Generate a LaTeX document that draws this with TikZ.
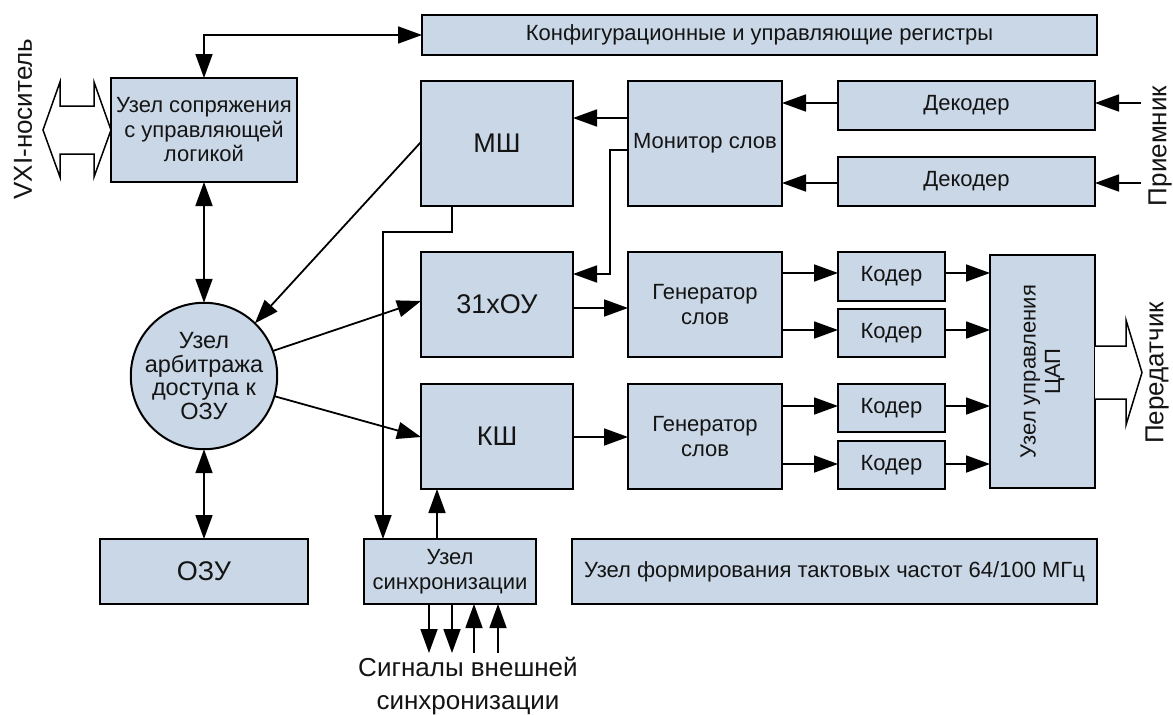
\documentclass[tikz,border=0pt]{standalone}
\usepackage{fontspec}
\setmainfont{Liberation Sans}
\usetikzlibrary{arrows.meta}
\definecolor{boxfill}{RGB}{202,215,230}
\definecolor{txt}{RGB}{20,20,20}
\begin{document}
\begin{tikzpicture}[x=1pt,y=-1pt,
  blk/.style={draw=black, fill=boxfill, line width=2pt, inner sep=0pt, outer sep=0pt, align=center, text=txt, font=\fontsize{22}{24.5}\selectfont},
  big/.style={font=\fontsize{27}{30}\selectfont},
  lbl/.style={font=\fontsize{26}{33}\selectfont, text=txt, align=center, inner sep=0pt},
  con/.style={line width=1.8pt, draw=black},
  arr/.style={con, -{Triangle[length=24pt,width=17pt]}},
  darr/.style={con, {Triangle[length=24pt,width=17pt]}-{Triangle[length=24pt,width=17pt]}},
  fat/.style={line width=1.5pt, draw=black, fill=white, line join=miter}
]
\useasboundingbox (0,0) rectangle (1173,715);

% boxes
\node[blk, minimum width=675, minimum height=40] (cfg) at (759.5,35) {Конфигурационные и управляющие регистры};
\node[blk, minimum width=186, minimum height=104] (usp) at (204,130) {Узел сопряжения\\с управляющей\\логикой};
\node[blk, big, minimum width=152, minimum height=125] (msh) at (497,143.5) {МШ};
\node[blk, minimum width=154, minimum height=125] (mon) at (705,143.5) {Монитор слов};
\node[blk, minimum width=257, minimum height=49] (dec1) at (966.5,105.5) {Декодер};
\node[blk, minimum width=257, minimum height=49] (dec2) at (966.5,181.5) {Декодер};
\node[blk, big, minimum width=152, minimum height=105] (ou) at (497,304.5) {31хОУ};
\node[blk, big, minimum width=152, minimum height=105] (ksh) at (497,436.5) {КШ};
\node[blk, minimum width=154, minimum height=105] (gen1) at (705,304.5) {Генератор\\слов};
\node[blk, minimum width=154, minimum height=105] (gen2) at (705,436.5) {Генератор\\слов};
\node[blk, minimum width=107, minimum height=49] (c1) at (891.5,276.5) {Кодер};
\node[blk, minimum width=107, minimum height=48] (c2) at (891.5,333) {Кодер};
\node[blk, minimum width=107, minimum height=48] (c3) at (891.5,408) {Кодер};
\node[blk, minimum width=107, minimum height=48] (c4) at (891.5,465) {Кодер};
\node[blk, minimum width=105, minimum height=233] (dac) at (1042.5,371.5) {};
\node[rotate=90, align=center, text=txt, font=\fontsize{22}{24.5}\selectfont] (dactext) at (dac.center) {Узел управления\\ЦАП};
\node[blk, circle, minimum size=133, font=\fontsize{23.5}{23.5}\selectfont] (circ) at (204,376) {Узел\\арбитража\\доступа к\\ОЗУ};
\node[blk, big, minimum width=208, minimum height=65] (ozu) at (204,571.5) {ОЗУ};
\node[blk, minimum width=172, minimum height=65] (sync) at (450,571.5) {Узел\\синхронизации};
\node[blk, minimum width=525, minimum height=65] (clk) at (834.5,571.5) {Узел формирования тактовых частот 64/100 МГц};

% labels
\node[lbl, rotate=90] (vxi) at (23,119) {VXI-носитель};
\node[lbl, rotate=90] (rx) at (1160,146) {Приемник};
\node[lbl, rotate=90] (tx) at (1157,373) {Передатчик};
\node[lbl] (sig) at (468,686) {Сигналы внешней\\синхронизации};

% fat arrows
\draw[fat] (usp.west) -- (94,177) -- (94,154) -- (60,154) -- (60,177) -- (43,130)
  -- (60,82) -- (60,106) -- (94,106) -- (94,82) -- cycle;
\draw[fat] (dac.east |- 0,346) -- (1126,346) -- (1126,320) -- (1142,372.5)
  -- (1126,425) -- (1126,399) -- (dac.east |- 0,399);

% connectors
\draw[darr] (cfg.west) -| (usp.north);
\draw[darr] (usp.south) -- (circ.north);
\draw[darr] (circ.south) -- (ozu.north);
\draw[arr] (msh.west |- 0,142) -- (circ.46);
\draw[arr] (circ.20) -- (ou.west |- 0,301);
\draw[arr] (circ.-16) -- (ksh.west |- 0,437);
\draw[arr] (mon.west |- 0,118) -- (msh.east |- 0,118);
\draw[arr] (mon.west |- 0,150) -- (610,150) -- (610,274) -- (ou.east |- 0,274);
\draw[arr] (msh.south -| 452,0) -- (452,232) -- (383,232) -- (sync.north -| 383,0);
\draw[arr] (sync.north -| 437,0) -- (ksh.south -| 437,0);
\draw[arr] (ou.east |- 0,308) -- (gen1.west |- 0,308);
\draw[arr] (ksh.east |- 0,437) -- (gen2.west |- 0,437);
\draw[arr] (gen1.east |- 0,273) -- (c1.west |- 0,273);
\draw[arr] (gen1.east |- 0,330) -- (c2.west |- 0,330);
\draw[arr] (gen2.east |- 0,406) -- (c3.west |- 0,406);
\draw[arr] (gen2.east |- 0,464) -- (c4.west |- 0,464);
\draw[arr] (c1.east |- 0,273) -- (dac.west |- 0,273);
\draw[arr] (c2.east |- 0,330) -- (dac.west |- 0,330);
\draw[arr] (c3.east |- 0,406) -- (dac.west |- 0,406);
\draw[arr] (c4.east |- 0,464) -- (dac.west |- 0,464);
\draw[arr] (dec1.west |- 0,103) -- (mon.east |- 0,103);
\draw[arr] (dec2.west |- 0,183) -- (mon.east |- 0,183);
\coordinate (in1) at (1141,103);
\coordinate (in2) at (1141,183);
\draw[arr] (in1) -- (dec1.east |- in1);
\draw[arr] (in2) -- (dec2.east |- in2);
\coordinate (s1) at (429,653);
\coordinate (s2) at (452,653);
\coordinate (s3) at (474,653);
\coordinate (s4) at (498,653);
\draw[arr] (sync.south -| s1) -- (s1);
\draw[arr] (sync.south -| s2) -- (s2);
\draw[arr] (s3) -- (sync.south -| s3);
\draw[arr] (s4) -- (sync.south -| s4);
\end{tikzpicture}
\end{document}
